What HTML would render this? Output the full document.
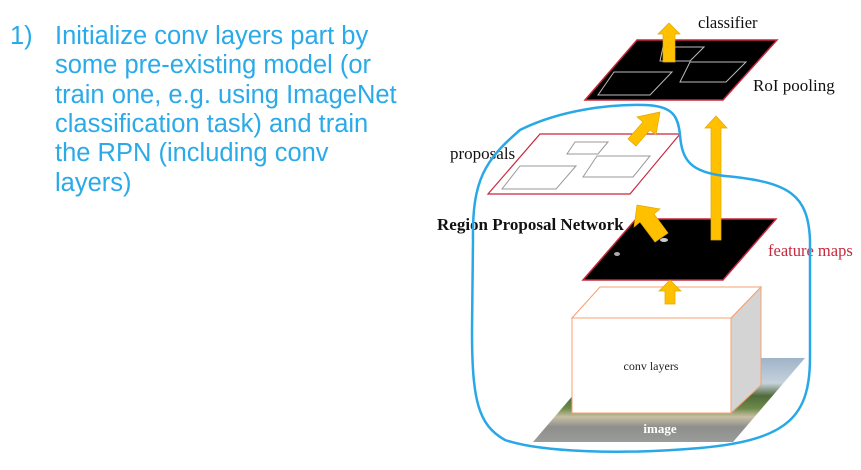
<!DOCTYPE html>
<html><head><meta charset="utf-8"><style>
html,body{margin:0;padding:0;background:#fff;width:861px;height:470px;overflow:hidden}
svg{position:absolute;left:0;top:0}
</style></head><body>
<svg width="861" height="470" viewBox="0 0 861 470" xmlns="http://www.w3.org/2000/svg">
<defs>
<linearGradient id="img" x1="0" y1="0" x2="0" y2="1">
<stop offset="0" stop-color="#9fb3c8"/><stop offset="0.3" stop-color="#c6d2dc"/>
<stop offset="0.45" stop-color="#4f6b3a"/><stop offset="0.6" stop-color="#6e8a4a"/>
<stop offset="0.7" stop-color="#c9bfa4"/><stop offset="0.82" stop-color="#8e8f8c"/><stop offset="1" stop-color="#9a9c9a"/>
</linearGradient>
</defs>
<g font-family="Liberation Sans, Arial, sans-serif" font-size="25.5" fill="#2aaae8">
<text x="10" y="44">1)</text>
<text x="55" y="44">Initialize conv layers part by</text>
<text x="55" y="73">some pre-existing model (or</text>
<text x="55" y="103">train one, e.g. using ImageNet</text>
<text x="55" y="132">classification task) and train</text>
<text x="55" y="161">the RPN (including conv</text>
<text x="55" y="191">layers)</text>
</g>
<polygon points="533,442 733,442 805,358 605,358" fill="url(#img)"/>
<text x="660" y="433" font-family="Liberation Serif,serif" font-size="13" fill="#fff" font-weight="bold" text-anchor="middle">image</text>
<polygon points="731,318 761,287 761,385 731,413" fill="#d4d4d4" stroke="#f4a070" stroke-width="1"/>
<polygon points="572,318 600,287 761,287 731,318" fill="#fff" stroke="#f4a070" stroke-width="1"/>
<rect x="572" y="318" width="159" height="95" fill="#fff" stroke="#f4a070" stroke-width="1"/>
<text x="651" y="370" font-family="Liberation Serif,serif" font-size="12" fill="#222" text-anchor="middle">conv layers</text>
<polygon points="636,219 776,219 723,280 583,280" fill="#000" stroke="#c8283c" stroke-width="1.5"/>
<ellipse cx="664" cy="240" rx="4" ry="2" fill="#ccc"/>
<ellipse cx="617" cy="254" rx="3" ry="2" fill="#aaa"/>
<text x="768" y="256" font-family="Liberation Serif,serif" font-size="16.5" fill="#c8283c">feature maps</text>
<polygon points="637,40 777,40 723,100 585,100" fill="#000" stroke="#c8283c" stroke-width="1.5"/>
<polygon points="663,47 704,47 690,61 660,61" fill="none" stroke="#bbb" stroke-width="1"/>
<polygon points="690,62 746,62 726,82 680,82" fill="none" stroke="#bbb" stroke-width="1"/>
<polygon points="614,72 672,72 650,95 598,95" fill="none" stroke="#bbb" stroke-width="1"/>
<text x="698" y="28" font-family="Liberation Serif,serif" font-size="16.5" fill="#111">classifier</text>
<text x="753" y="91" font-family="Liberation Serif,serif" font-size="17" fill="#111">RoI pooling</text>
<polygon points="540,134 680,134 630,194 488,194" fill="#fff" stroke="#c8283c" stroke-width="1.2"/>
<polygon points="575,142 608,142 598,154 567,154" fill="none" stroke="#999" stroke-width="1"/>
<polygon points="597,156 650,156 633,177 583,177" fill="none" stroke="#999" stroke-width="1"/>
<polygon points="520,166 576,166 556,189 502,189" fill="none" stroke="#999" stroke-width="1"/>
<text x="450" y="159" font-family="Liberation Serif,serif" font-size="17" fill="#111">proposals</text>
<text x="437" y="230" font-family="Liberation Serif,serif" font-size="17" font-weight="bold" fill="#111">Region Proposal Network</text>
<g fill="#ffc000" stroke="#e0a800" stroke-width="0.7">
<polygon points="663,62 663,34 658,34 669,23 680,34 675,34 675,62"/>
<polygon points="711,240 711,128 705,128 716,116 727,128 721,128 721,240"/>
<polygon points="665,304 665,291 659,291 670,280 681,291 675,291 675,304"/>
<polygon points="628,139 643,122 637,117 660,112 656,135 650,130 636,146"/>
<polygon points="655,242 640,222 634,227 637,205 660,209 654,214 668,233"/>
</g>
<path d="M473,240 C472,180 485,160 520,130 C560,110 610,104 645,105 C672,106 678,115 680,135 C682,160 690,172 725,176 C790,182 808,195 810,240 L810,357 C810,415 790,440 700,448 C620,455 540,452 505,440 C478,425 472,400 472,330 Z" fill="none" stroke="#29a8e8" stroke-width="2.5"/>
</svg>
</body></html>
